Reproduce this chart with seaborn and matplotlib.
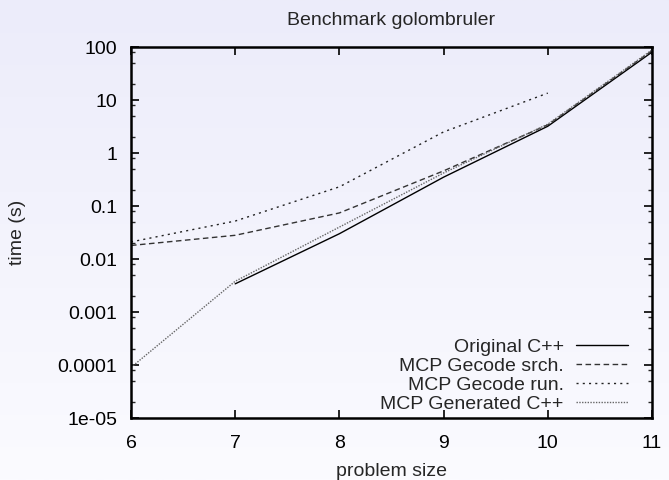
import numpy as np
import pandas as pd
import matplotlib
matplotlib.use("Agg")
import matplotlib.pyplot as plt
import seaborn as sns
from matplotlib.ticker import LogLocator, FixedLocator, NullFormatter

sns.set_style("white")
plt.rcParams['font.family'] = ['Liberation Sans', 'DejaVu Sans']

# ---- data ----
sizes = [6, 7, 8, 9, 10, 11]
series_names = ["Original C++", "MCP Gecode srch.", "MCP Gecode run.", "MCP Generated C++"]
original_cpp = [None, 0.0034, 0.030, 0.35, 3.2, 80]
gecode_srch = [0.018, 0.028, 0.074, 0.46, 3.4, 85]
gecode_run = [0.021, 0.052, 0.23, 2.5, 13.5, None]
generated_cpp = [0.00009, 0.0038, 0.040, 0.42, 3.5, 88]
y_ticks = [1e-5, 1e-4, 1e-3, 1e-2, 1e-1, 1, 10, 100]
y_tick_labels = ["1e-05", "0.0001", "0.001", "0.01", "0.1", "1", "10", "100"]
x_ticks = [6, 7, 8, 9, 10, 11]

rows = []
for name, vals in zip(series_names, [original_cpp, gecode_srch, gecode_run, generated_cpp]):
    for s, v in zip(sizes, vals):
        if v is not None:
            rows.append({"size": s, "time": v, "series": name})
df = pd.DataFrame(rows)

W, H = 669, 480
fig = plt.figure(figsize=(W / 100, H / 100), dpi=100)

# gradient background
bg = fig.add_axes([0, 0, 1, 1], zorder=-10)
top = np.array([236, 236, 250]) / 255.0
bot = np.array([251, 251, 255]) / 255.0
t = np.linspace(0, 1, 256)[:, None]
grad = (top[None, :] * (1 - t) + bot[None, :] * t)[:, None, :]
bg.imshow(grad, aspect="auto", extent=[0, 1, 0, 1])
bg.axis("off")

ax = fig.add_axes([131 / W, 1 - 418 / H, (652 - 131) / W, (418 - 47) / H])
ax.patch.set_alpha(0)

palette = {
    "Original C++": "#000000",
    "MCP Gecode srch.": "#333333",
    "MCP Gecode run.": "#222222",
    "MCP Generated C++": "#666666",
}
dashes = {
    "Original C++": "",
    "MCP Gecode srch.": (4, 2.5),
    "MCP Gecode run.": (1.5, 3),
    "MCP Generated C++": (1, 1),
}
sns.lineplot(data=df, x="size", y="time", hue="series", style="series",
             hue_order=series_names, style_order=series_names,
             palette=palette, dashes=dashes, linewidth=1.0,
             estimator=None, sort=True, ax=ax)

FS = 14
ax.set_yscale("log")
ax.set_xlim(6, 11)
ax.set_ylim(1e-5, 100)
ax.set_xticks(x_ticks)
ax.set_xticklabels([str(x) for x in x_ticks])
ax.yaxis.set_major_locator(FixedLocator(y_ticks))
ax.set_yticklabels(y_tick_labels)
ax.yaxis.set_minor_locator(LogLocator(base=10, subs=(2.0, 5.0, 8.0)))
ax.yaxis.set_minor_formatter(NullFormatter())

ax.tick_params(axis="x", which="major", direction="in", length=6, width=1.2,
               top=True, bottom=True, labelsize=FS, pad=12, colors="black")
ax.tick_params(axis="y", which="major", direction="in", length=6, width=1.2,
               left=True, right=True, labelsize=FS, pad=10, colors="black")
ax.tick_params(axis="y", which="minor", direction="in", length=3, width=1.0,
               left=True, right=True)
for sp in ax.spines.values():
    sp.set_linewidth(1.8)
    sp.set_color("black")

ax.set_xlabel("problem size", fontsize=FS)
ax.set_ylabel("time (s)", fontsize=FS)
ax.xaxis.set_label_coords(0.5, (418 - 471) / 371, transform=ax.transAxes)
ax.yaxis.set_label_coords((18 - 131) / 521, 0.5, transform=ax.transAxes)
ax.xaxis.label.set_va("center")
ax.yaxis.label.set_va("center")
ax.set_title("Benchmark golombruler", fontsize=FS, pad=16)

handles, labels = ax.get_legend_handles_labels()
leg = ax.legend(handles, labels, loc="lower right",
                bbox_to_anchor=((628 - 131) / 521, (418 - 413) / 371),
                frameon=False, fontsize=FS, markerfirst=False,
                handlelength=2.7, handletextpad=0.6, labelspacing=0.08,
                borderpad=0.0, borderaxespad=0.0)

fig.savefig("out.png", dpi=100)
